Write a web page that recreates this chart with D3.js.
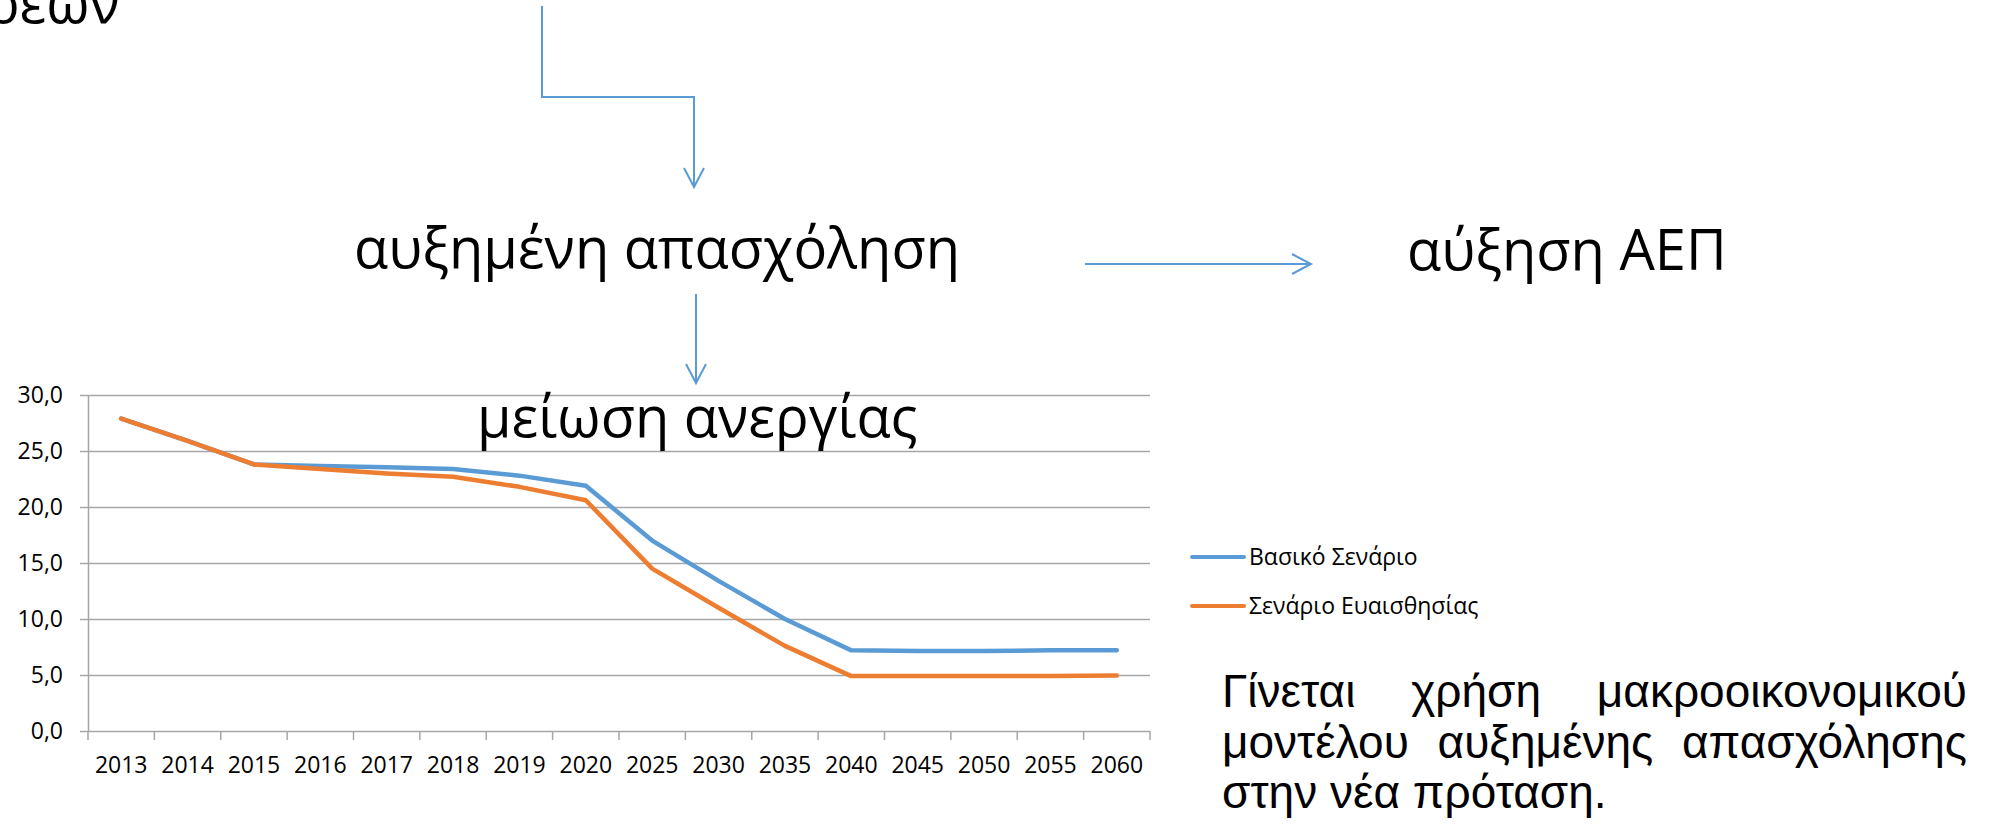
<!DOCTYPE html>
<html>
<head>
<meta charset="utf-8">
<script src="https://cdn.jsdelivr.net/npm/d3@7"></script>
<style>
  body { margin: 0; background: #fff; }
  svg { display: block; }
</style>
</head>
<body>
<svg id="slide" width="2000" height="834"></svg>
<script>

// data
var years = ['2013','2014','2015','2016','2017','2018','2019','2020','2025','2030','2035','2040','2045','2050','2055','2060'];
var basicScenario = [27.9, 25.9, 23.8, 23.65, 23.55, 23.4, 22.8, 21.9, 17.0, 13.4, 10.0, 7.2, 7.15, 7.15, 7.2, 7.2];
var sensScenario  = [27.9, 25.9, 23.8, 23.4, 23.0, 22.7, 21.8, 20.6, 14.5, 11.0, 7.6, 4.9, 4.9, 4.9, 4.9, 4.95];
var yTicks = [0, 5, 10, 15, 20, 25, 30];
var seriesNames = ['Βασικό Σενάριο', 'Σενάριο Ευαισθησίας'];
var seriesColors = ['#5B9BD5', '#ED7D31'];
var paragraph = ['Γίνεται χρήση μακροοικονομικού', 'μοντέλου αυξημένης απασχόλησης', 'στην νέα πρόταση.'];

var svg = d3.select('#slide');
var blue = '#5B9BD5';
var grid = '#A6A6A6';

// chart area
var plotLeft = 88, plotRight = 1150, plotTop = 395, plotBottom = 731;

var xScale = d3.scaleBand()
	.domain(years)
	.range([plotLeft, plotRight]);

var yScale = d3.scaleLinear()
	.domain([0, 30])
	.range([plotBottom, plotTop]);

var chart = svg.append('g');

// y axis with gridlines
var yAxisGen = d3.axisLeft(yScale)
	.tickValues(yTicks)
	.tickSizeInner(-(plotRight - plotLeft))
	.tickSizeOuter(0)
	.tickPadding(25)
	.tickFormat(function(d){ return d3.format('.1f')(d).replace('.', ','); });

var yAxis = chart.append('g')
	.attr('transform', 'translate(' + plotLeft + ',0)')
	.call(yAxisGen);

yAxis.select('.domain').attr('stroke', grid).attr('stroke-width', 1.5);
yAxis.selectAll('.tick line')
	.attr('x1', -8)
	.attr('stroke', grid)
	.attr('stroke-width', 1.5);
yAxis.selectAll('.tick text')
	.attr('fill', '#000')
	.style('font-family', 'Open Sans')
	.style('font-size', '23px');

// x axis: labels in the band centres, ticks on the boundaries
var xAxisGen = d3.axisBottom(xScale)
	.tickSize(0)
	.tickPadding(26);

var xAxis = chart.append('g')
	.attr('transform', 'translate(0,' + plotBottom + ')')
	.call(xAxisGen);

xAxis.select('.domain').remove();
xAxis.selectAll('.tick text')
	.attr('fill', '#000')
	.style('font-family', 'Open Sans')
	.style('font-size', '23px');

var bounds = years.map(function(d){ return xScale(d); }).concat([plotRight]);

chart.append('g')
	.selectAll('line')
	.data(bounds)
	.enter()
	.append('line')
	.attr('x1', function(d){ return d; })
	.attr('x2', function(d){ return d; })
	.attr('y1', plotBottom)
	.attr('y2', plotBottom + 9)
	.attr('stroke', grid)
	.attr('stroke-width', 1.5);

// lines
var lineGen = d3.line()
	.x(function(d, i){ return xScale(years[i]) + xScale.bandwidth() / 2; })
	.y(function(d){ return yScale(d); });

[basicScenario, sensScenario].forEach(function(s, i){
	chart.append('path')
		.datum(s)
		.attr('fill', 'none')
		.attr('stroke', seriesColors[i])
		.attr('stroke-width', 4.5)
		.attr('stroke-linejoin', 'round')
		.attr('stroke-linecap', 'round')
		.attr('d', lineGen);
});

// legend
var legend = svg.append('g')
	.selectAll('g')
	.data(seriesNames)
	.enter()
	.append('g')
	.attr('transform', function(d, i){ return 'translate(1192,' + (557 + i * 49) + ')'; });

legend.append('line')
	.attr('x1', 0).attr('x2', 52)
	.attr('stroke', function(d, i){ return seriesColors[i]; })
	.attr('stroke-width', 4)
	.attr('stroke-linecap', 'round');

legend.append('text')
	.attr('x', 57)
	.attr('y', 8)
	.style('font-family', 'Open Sans')
	.style('font-size', '23px')
	.text(function(d){ return d; });

// flow diagram texts
var bigText = [
	{ t: 'ρεων', x: 120, y: 23, anchor: 'end' },
	{ t: 'αυξημένη απασχόληση', x: 354, y: 268, anchor: 'start' },
	{ t: 'αύξηση ΑΕΠ', x: 1407, y: 270, anchor: 'start' },
	{ t: 'μείωση ανεργίας', x: 477, y: 437, anchor: 'start' }
];

svg.append('g')
	.selectAll('text')
	.data(bigText)
	.enter()
	.append('text')
	.attr('x', function(d){ return d.x; })
	.attr('y', function(d){ return d.y; })
	.attr('text-anchor', function(d){ return d.anchor; })
	.style('font-family', 'Open Sans')
	.style('font-size', '56px')
	.text(function(d){ return d.t; });

// arrows
function arrowPath(pts){
	var p = d3.path();
	p.moveTo(pts[0][0], pts[0][1]);
	for (var i = 1; i < pts.length; i++) p.lineTo(pts[i][0], pts[i][1]);
	var a = pts[pts.length - 2], b = pts[pts.length - 1];
	var ang = Math.atan2(b[1] - a[1], b[0] - a[0]);
	var len = 19, w = 10;
	p.moveTo(b[0] - len * Math.cos(ang) - w * Math.sin(ang), b[1] - len * Math.sin(ang) + w * Math.cos(ang));
	p.lineTo(b[0], b[1]);
	p.lineTo(b[0] - len * Math.cos(ang) + w * Math.sin(ang), b[1] - len * Math.sin(ang) - w * Math.cos(ang));
	return p.toString();
}

var arrows = [
	[[542, 6], [542, 97], [694, 97], [694, 187]],
	[[696, 294], [696, 383]],
	[[1085, 264], [1311, 264]]
];

svg.append('g')
	.selectAll('path')
	.data(arrows)
	.enter()
	.append('path')
	.attr('fill', 'none')
	.attr('stroke', blue)
	.attr('stroke-width', 2)
	.attr('d', arrowPath);

// justified paragraph
var pLeft = 1222, pRight = 1967;
var para = svg.append('g')
	.style('font-family', 'Liberation Sans')
	.style('font-size', '46px');

paragraph.forEach(function(line, i){
	var yy = 707 + i * 50.5;
	if (i === paragraph.length - 1) {
		para.append('text').attr('x', pLeft).attr('y', yy).text(line);
		return;
	}
	var words = line.split(' ');
	var nodes = words.map(function(w){
		return para.append('text').attr('y', yy).text(w);
	});
	var widths = nodes.map(function(n){ return n.node().getComputedTextLength(); });
	var gap = (pRight - pLeft - d3.sum(widths)) / (words.length - 1);
	var xx = pLeft;
	nodes.forEach(function(n, k){
		n.attr('x', xx);
		xx += widths[k] + gap;
	});
});

</script>
</body>
</html>
